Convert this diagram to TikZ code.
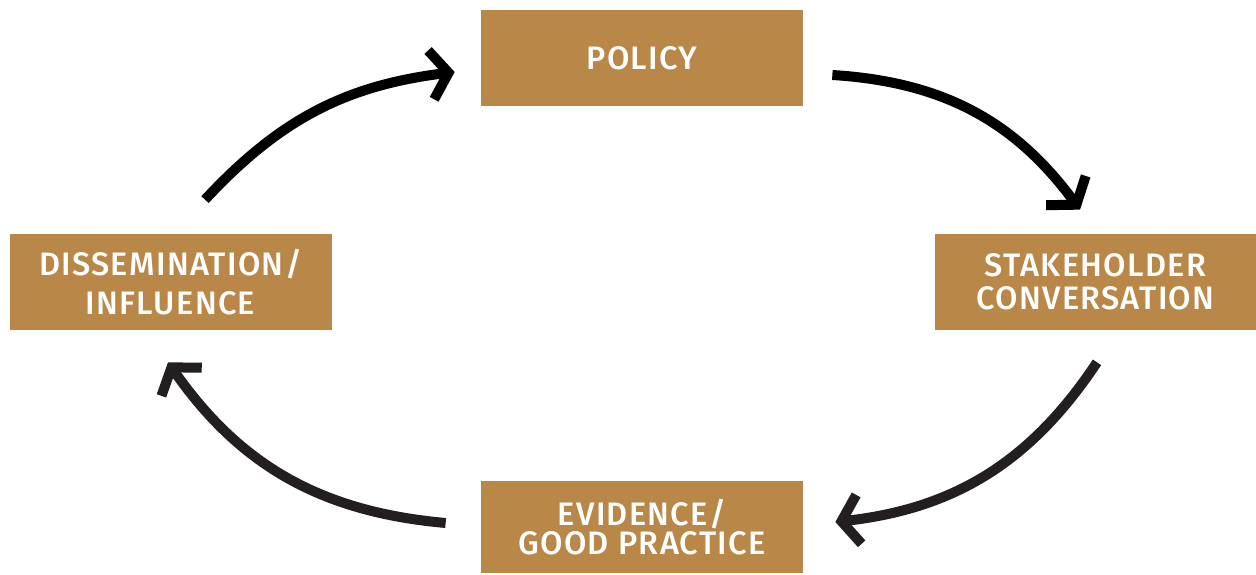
\documentclass[tikz,border=0pt]{standalone}
\usepackage{fontspec}
\setmainfont{Fira Sans}[UprightFont={* Medium},LetterSpace=4]
\usepackage{tikz}
\usetikzlibrary{arrows.meta,calc}
\definecolor{boxgold}{HTML}{B98747}
\definecolor{darkarrow}{HTML}{231F20}

\begin{document}
\begin{tikzpicture}[x=0.02cm,y=0.02cm,
  stage/.style={fill=boxgold,text=white,align=center,inner sep=0pt,
    minimum width=\BoxW*0.02cm,minimum height=96*0.02cm,
    font=\fontsize{18.5}{19}\selectfont},
  cycle/.style={line width=10*0.02cm,-{Straight Barb[length=10pt,width=28pt]}}]
%box width
\newcommand*{\BoxW}{322}
\useasboundingbox (0,0) rectangle (1256,574);
%stages
\node[stage] (pol) at (642,516) {POLICY};
\node[stage] (stk) at (1095.5,292) {STAKEHOLDER\\CONVERSATION};
\node[stage,minimum height=92*0.02cm,font=\fontsize{18.5}{17}\selectfont] (evi) at (642,47) {EVIDENCE/\\GOOD PRACTICE};
\node[stage,font=\fontsize{18.5}{22}\selectfont] (dis) at (170.5,292) {DISSEMINATION/\\INFLUENCE};
%arrows
\draw[cycle] ($(dis.north)+(34.5,34)$) to[bend left=20] ($(pol.west)+(-26,-14)$);
\draw[cycle] ($(pol.east)+(29,-17)$) to[bend left=25] ($(stk.north)+(-15.5,24)$);
\draw[cycle,darkarrow] ($(stk.south)+(1.5,-32)$) to[bend left=25] ($(evi.east)+(32,5)$);
\draw[cycle,darkarrow] ($(evi.west)+(-35,4)$) to[bend left=25] ($(dis.south)+(-2.5,-32)$);
\end{tikzpicture}
\end{document}
